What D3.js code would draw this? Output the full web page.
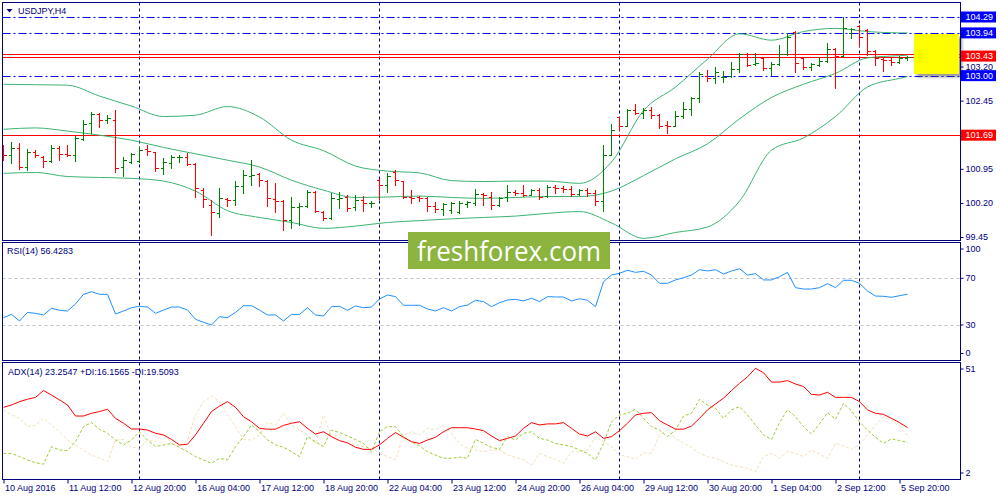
<!DOCTYPE html>
<html><head><meta charset="utf-8">
<script src="https://cdn.jsdelivr.net/npm/d3@7/dist/d3.min.js"></script>
<style>
body{margin:0;background:#fff;overflow:hidden;}
svg{display:block;}
</style></head><body>
<svg id="c" width="1000" height="500"></svg>
<script>
// ---------- DATA ----------
const barOpen  = [101.36,101.25,101.40,100.98,101.33,101.20,101.12,101.40,101.28,101.25,101.60,101.95,102.15,102.02,102.02,100.98,101.11,101.12,101.38,101.31,100.96,101.07,101.20,101.22,101.05,100.48,100.15,99.98,100.29,100.26,100.57,100.80,100.83,100.69,100.28,100.24,99.82,100.11,100.13,100.45,100.01,99.86,100.28,100.32,100.10,100.26,100.19,100.70,100.59,100.89,100.68,100.32,100.32,100.30,100.13,100.06,100.04,100.01,100.18,100.19,100.40,100.34,100.15,100.32,100.45,100.41,100.37,100.48,100.35,100.56,100.52,100.50,100.40,100.48,100.42,100.25,101.25,102.08,101.89,102.24,102.18,102.24,102.13,101.91,101.89,102.11,102.26,102.50,103.00,102.94,102.97,103.00,103.14,103.47,103.25,103.38,103.16,103.26,103.47,103.97,103.38,103.18,103.23,103.33,103.58,103.43,103.94,104.09,104.00,103.55,103.37,103.34,103.31,103.38];
const barHigh  = [101.47,101.53,101.51,101.38,101.36,101.23,101.47,101.45,101.47,101.67,102.02,102.19,102.17,102.13,102.24,101.20,101.29,101.44,101.47,101.33,101.18,101.25,101.25,101.29,101.07,100.52,100.26,100.52,100.30,100.69,100.92,101.14,100.85,100.70,100.63,100.26,100.34,100.20,100.48,100.47,100.03,100.42,100.45,100.37,100.37,100.35,100.25,100.72,100.86,100.92,100.69,100.48,100.35,100.34,100.23,100.20,100.23,100.24,100.25,100.50,100.41,100.45,100.32,100.59,100.48,100.59,100.50,100.52,100.59,100.59,100.58,100.57,100.50,100.52,100.48,101.47,101.94,102.10,102.26,102.38,102.28,102.30,102.16,102.00,102.23,102.43,102.52,103.09,103.12,103.20,103.11,103.31,103.50,103.49,103.49,103.40,103.31,103.67,103.94,103.99,103.40,103.27,103.40,103.71,103.60,104.29,104.04,104.11,104.02,103.56,103.38,103.42,103.43,103.43];
const barLow   = [101.14,101.08,100.94,100.92,101.20,101.00,101.11,101.14,101.23,101.13,101.58,101.74,101.88,101.95,100.89,100.79,101.07,101.11,101.25,100.91,100.84,100.96,101.11,101.03,100.32,100.12,99.49,99.88,100.13,100.15,100.41,100.59,100.57,100.14,100.01,99.60,99.64,99.71,100.12,100.01,99.82,99.84,100.08,100.02,100.04,100.02,100.12,100.28,100.45,100.59,100.30,100.19,100.24,100.02,100.01,99.93,99.97,99.98,100.10,100.15,100.15,100.06,100.13,100.25,100.37,100.36,100.37,100.28,100.34,100.42,100.45,100.35,100.37,100.35,100.15,100.03,101.25,101.80,101.89,102.16,102.06,102.06,101.84,101.73,101.89,102.06,102.13,102.43,102.89,102.84,102.87,102.98,103.09,103.21,103.23,103.12,103.01,103.23,103.45,103.09,103.14,103.12,103.21,103.31,102.72,103.43,103.82,103.65,103.45,103.23,103.11,103.23,103.27,103.34];
const barClose = [101.25,101.40,100.98,101.31,101.25,101.12,101.40,101.28,101.25,101.62,101.94,102.15,102.02,102.06,100.96,101.14,101.27,101.36,101.34,100.96,101.11,101.22,101.22,101.06,100.52,100.28,100.01,100.30,100.26,100.57,100.81,100.82,100.70,100.30,100.25,99.82,100.12,100.13,100.45,100.02,99.86,100.30,100.30,100.09,100.26,100.19,100.20,100.59,100.79,100.70,100.32,100.31,100.30,100.13,100.06,100.18,100.20,100.19,100.22,100.40,100.37,100.15,100.30,100.45,100.42,100.37,100.48,100.34,100.54,100.52,100.50,100.40,100.48,100.42,100.25,101.25,101.80,101.89,102.24,102.18,102.24,102.13,101.89,101.89,102.11,102.26,102.50,103.04,102.94,103.09,102.98,103.14,103.47,103.23,103.27,103.16,103.26,103.48,103.84,103.28,103.18,103.26,103.33,103.58,103.43,104.04,104.02,103.86,103.55,103.38,103.34,103.31,103.38,103.40];

// Bollinger bands, read every 4th bar
const bandIdx  = [0,4,8,12,16,20,24,28,32,36,40,44,48,52,56,60,64,68,72,76,80,84,88,92,96,100,104,108,112,113];
const bbUpper  = [102.81,102.80,102.79,102.55,102.33,102.10,102.13,102.32,102.09,101.58,101.35,101.01,100.90,100.86,100.69,100.67,100.68,100.68,100.63,101.10,102.23,102.75,103.36,103.92,103.78,103.97,104.04,103.97,103.94,103.94];
const bbMiddle = [101.82,101.85,101.78,101.69,101.58,101.42,101.28,101.14,100.99,100.70,100.48,100.32,100.33,100.35,100.32,100.30,100.32,100.34,100.34,100.46,100.80,101.17,101.50,102.05,102.52,102.81,103.05,103.39,103.44,103.45];
const bbLower  = [100.85,100.87,100.78,100.76,100.74,100.68,100.46,100.03,99.88,99.77,99.64,99.69,99.77,99.81,99.85,99.88,99.91,99.97,100.01,99.76,99.42,99.55,99.67,100.24,101.36,101.63,102.10,102.75,102.94,102.98];

const rsiValues = [36.3,39.1,33.4,40.8,40.0,38.6,44.3,42.6,42.0,48.0,56.3,58.5,56.3,56.3,39.4,42.0,44.8,46.0,45.4,40.0,42.8,45.4,45.4,42.8,34.9,32.3,30.0,37.1,36.3,40.8,46.5,46.5,42.8,38.6,38.6,33.4,39.1,39.1,44.8,38.6,37.7,45.7,46.0,42.6,46.3,44.8,45.4,52.3,55.7,54.3,46.9,46.9,46.9,43.7,42.0,44.8,42.0,45.7,47.1,51.2,50.0,45.7,49.1,51.4,52.0,50.6,52.9,50.0,54.3,54.0,54.0,50.6,52.5,51.2,45.7,67.1,72.8,74.3,76.9,75.1,76.0,72.8,65.7,65.7,68.6,70.5,72.8,77.4,76.3,77.4,73.7,76.3,78.2,72.8,74.0,68.6,68.6,71.4,75.1,62.0,60.8,60.8,62.0,65.4,62.0,68.3,68.3,65.7,59.1,54.8,54.6,53.7,55.1,56.4];

const adxValues = [32.7,33.8,35.4,36.5,37.4,40.6,38.5,36.2,33.8,28.6,28.6,29.9,30.7,31.8,27.5,25.2,22.5,22.5,22.0,20.5,19.7,17.6,15.0,15.3,19.7,25.2,30.7,33.3,35.4,32.7,28.3,25.9,22.8,22.4,22.4,24.2,25.2,25.9,22.8,20.1,21.2,18.9,17.0,16.0,13.9,12.9,12.9,15.0,18.1,20.8,18.6,16.5,15.7,17.3,18.6,21.2,23.1,23.1,23.1,22.5,21.7,19.2,17.0,18.1,19.2,22.8,25.5,24.4,24.9,24.9,25.5,22.8,20.1,19.2,21.2,18.1,18.9,21.7,25.2,29.1,29.9,30.2,26.4,24.4,22.4,22.4,23.9,27.5,31.5,34.3,37.0,40.6,44.0,47.1,51.1,49.0,44.6,44.6,45.3,43.7,42.5,38.8,38.5,39.8,37.4,37.4,37.4,35.4,31.5,29.9,29.4,27.5,25.5,23.2];
const plusDI = [11.0,11.0,9.5,7.9,6.6,5.9,14.2,12.6,12.3,16.5,23.6,25.5,22.4,20.5,17.3,15.0,17.3,21.2,17.3,14.2,15.0,15.7,13.9,11.8,9.5,7.9,6.3,8.7,7.9,14.2,18.9,24.4,21.2,17.3,15.0,13.9,11.8,9.5,18.9,16.5,14.2,22.0,20.8,19.2,17.6,15.7,11.8,21.2,23.6,23.6,18.9,16.5,14.5,11.8,10.2,8.7,8.7,9.2,8.7,17.6,15.7,13.9,12.9,18.9,17.3,20.5,21.2,18.1,17.3,15.7,15.0,14.2,12.6,11.0,7.9,15.7,25.9,29.1,29.9,31.8,27.5,23.6,22.0,18.9,22.0,28.6,29.9,36.5,33.8,32.3,27.5,31.5,33.0,29.1,24.4,19.7,17.6,25.5,31.5,28.3,23.6,20.1,24.9,30.2,27.1,34.6,31.1,25.9,22.0,18.6,15.7,17.9,17.0,16.2];
const minusDI = [31.5,29.1,27.5,23.6,24.4,27.5,24.4,21.2,17.3,15.0,12.6,10.2,8.7,7.1,17.3,17.6,13.9,13.4,17.3,16.5,20.5,15.7,14.5,17.3,29.1,35.4,38.0,35.4,29.1,23.6,17.6,17.3,19.7,25.5,24.4,29.9,24.4,22.0,19.7,15.7,29.1,18.9,19.7,17.3,15.0,14.2,13.4,11.0,9.5,7.9,19.7,21.2,19.7,22.8,22.0,24.4,20.5,15.7,13.4,12.6,11.8,12.6,12.6,10.2,9.2,7.9,5.5,11.0,9.5,8.2,6.3,11.8,11.8,12.6,18.9,16.5,14.2,10.2,9.5,8.2,11.3,11.0,19.7,22.0,18.1,15.7,13.9,11.0,9.5,8.7,7.1,5.5,4.7,4.0,2.4,9.5,11.0,8.7,11.8,11.0,9.5,12.6,10.7,8.7,15.7,14.5,12.9,15.0,19.7,24.4,28.3,26.7,23.6,19.5];

const xTickBars   = [0,8,16,24,32,40,48,56,64,72,80,88,96,104,112];
const xTickLabels = ["10 Aug 2016","11 Aug 12:00","12 Aug 20:00","16 Aug 04:00","17 Aug 12:00","18 Aug 20:00","22 Aug 04:00","23 Aug 12:00","24 Aug 20:00","26 Aug 04:00","29 Aug 12:00","30 Aug 20:00","1 Sep 04:00","2 Sep 12:00","5 Sep 20:00"];
const weekStarts  = [17,47,77,107];
const priceTicks  = [103.20,102.45,101.70,100.95,100.20,99.45];
const blueLevels  = [104.29,103.94,103.00];
const redLevels   = [103.47,103.40,101.69];
const blueLabels  = [104.29,103.94,103.00];
const redLabels   = [103.43,101.69];
const rsiTicks    = [100,70,30,0];
const rsiLevels   = [70,30];
const adxTicks    = [51,2];

// ---------- LAYOUT ----------
const FONT = '"Liberation Sans", Arial, sans-serif';
const NAVY = '#000080';
const L = 2.5, R = 960.5;
const P = {main:[2.5,240.5], rsi:[242.5,360.5], adx:[362.5,479.5]};

const svg = d3.select('#c');
const defs = svg.append('defs');
Object.entries(P).forEach(([k,[t,b]]) => {
  defs.append('clipPath').attr('id','clip-'+k).append('rect')
    .attr('x',L).attr('y',t).attr('width',R-L).attr('height',b-t);
});
const f = defs.append('filter').attr('id','shadow').attr('x','-20%').attr('y','-20%').attr('width','150%').attr('height','150%');
f.append('feDropShadow').attr('dx',3).attr('dy',3).attr('stdDeviation',1.5).attr('flood-color','#444').attr('flood-opacity',0.55);

const x  = d3.scaleLinear().domain([0,113]).range([3.5,907.5]);
const y  = d3.scaleLinear().domain([99.45,104.29]).range([237,17]);
const yR = d3.scaleLinear().domain([0,100]).range([360,243.3]);
const yA = d3.scaleLinear().domain([2,51]).range([472.5,368.5]);
const snap = v => Math.round(v) + 0.5;

// separators in all panels
Object.keys(P).forEach(k => {
  svg.append('g').attr('clip-path',`url(#clip-${k})`).selectAll('line').data(weekStarts).join('line')
    .attr('x1',d=>x(d)).attr('x2',d=>x(d)).attr('y1',P[k][0]).attr('y2',P[k][1])
    .attr('stroke',NAVY).attr('stroke-width',1).attr('stroke-dasharray','3,3');
});

// ---------- MAIN PANEL ----------
const gm = svg.append('g').attr('clip-path','url(#clip-main)');
gm.selectAll('line.blue').data(blueLevels).join('line').attr('class','blue')
  .attr('x1',L).attr('x2',R).attr('y1',d=>snap(y(d))).attr('y2',d=>snap(y(d)))
  .attr('stroke','#0000ff').attr('stroke-dasharray','8,3,2,3');
gm.selectAll('line.red').data(redLevels).join('line').attr('class','red')
  .attr('x1',L).attr('x2',R).attr('y1',d=>snap(y(d))).attr('y2',d=>snap(y(d)))
  .attr('stroke','#ff0000');

const bandLine = d3.line().x(d=>x(d[0])).y(d=>y(d[1])).curve(d3.curveMonotoneX);
[bbUpper,bbMiddle,bbLower].forEach(arr => {
  gm.append('path').attr('d', bandLine(bandIdx.map((b,i)=>[b,arr[i]])))
    .attr('fill','none').attr('stroke','#3cb371').attr('stroke-width',1);
});

const bars = barOpen.map((o,i)=>({i,o,h:barHigh[i],l:barLow[i],c:barClose[i]}));
gm.append('g').attr('shape-rendering','crispEdges').selectAll('path').data(bars).join('path')
  .attr('d', d => {
    const cx = x(d.i);
    return `M${cx},${Math.round(y(d.h))}V${Math.round(y(d.l))+1}M${cx-3},${snap(y(d.o))}H${cx}M${cx},${snap(y(d.c))}H${cx+3}`;
  })
  .attr('fill','none').attr('stroke', d => d.c >= d.o ? '#008000' : '#ff0000').attr('stroke-width',1);

// yellow box
svg.append('rect').attr('x',914).attr('y',34).attr('width',45).attr('height',40)
  .attr('fill','#ffff00').attr('filter','url(#shadow)');

// ---------- RSI PANEL ----------
const gr = svg.append('g').attr('clip-path','url(#clip-rsi)');
gr.selectAll('line').data(rsiLevels).join('line')
  .attr('x1',L).attr('x2',R).attr('y1',d=>snap(yR(d))).attr('y2',d=>snap(yR(d)))
  .attr('stroke','#c0c0c0').attr('stroke-dasharray','3,3');
gr.append('path').attr('d', d3.line().x((d,i)=>x(i)).y(d=>yR(d))(rsiValues))
  .attr('fill','none').attr('stroke','#1e90ff').attr('stroke-width',1);

// ---------- ADX PANEL ----------
const ga = svg.append('g').attr('clip-path','url(#clip-adx)');
const aLine = d3.line().x((d,i)=>x(i)).y(d=>yA(d));
ga.append('path').attr('d', aLine(minusDI)).attr('fill','none').attr('stroke','#f5deb3').attr('stroke-dasharray','3,2');
ga.append('path').attr('d', aLine(plusDI)).attr('fill','none').attr('stroke','#9acd32').attr('stroke-dasharray','3,2');
ga.append('path').attr('d', aLine(adxValues)).attr('fill','none').attr('stroke','#ff0000').attr('stroke-width',1);

// ---------- FRAMES ----------
Object.values(P).forEach(([t,b]) => {
  svg.append('rect').attr('x',L).attr('y',t).attr('width',R-L).attr('height',b-t)
    .attr('fill','none').attr('stroke',NAVY).attr('stroke-width',1).attr('shape-rendering','crispEdges');
});

// ---------- AXES ----------
function styleAxis(g){
  g.select('.domain').remove();
  g.selectAll('line').attr('stroke',NAVY);
  g.selectAll('text').attr('fill',NAVY).style('font-family',FONT).style('font-size','9px');
}
const pa = svg.append('g').attr('transform',`translate(${R},0)`)
  .call(d3.axisRight(y).tickValues(priceTicks).tickSize(3).tickPadding(2).tickFormat(d3.format('.2f')));
styleAxis(pa);

const boxG = svg.append('g');
function boxLabel(v,col){
  const yy = y(v);
  boxG.append('rect').attr('x',961).attr('y',yy-5.5).attr('width',35).attr('height',11).attr('fill',col);
  boxG.append('text').attr('x',965.5).attr('y',yy).attr('dy','0.34em').text(v.toFixed(2))
    .attr('fill','#fff').style('font-family',FONT).style('font-size','9px');
}
blueLabels.forEach(v=>boxLabel(v,'#0000ff'));
redLabels.forEach(v=>boxLabel(v,'#ff0000'));

const ra = svg.append('g').attr('transform',`translate(${R},0)`)
  .call(d3.axisRight(yR).tickValues(rsiTicks).tickSize(3).tickPadding(2));
ra.selectAll('.tick').attr('transform', d => `translate(0,${Math.max(249, Math.min(353.5, yR(d)))})`);
styleAxis(ra);

const aa = svg.append('g').attr('transform',`translate(${R},0)`)
  .call(d3.axisRight(yA).tickValues(adxTicks).tickSize(3).tickPadding(2));
styleAxis(aa);

const xa = svg.append('g').attr('transform',`translate(0,${P.adx[1]})`)
  .call(d3.axisBottom(x).tickValues(xTickBars).tickSize(4).tickPadding(1).tickFormat((d,i)=>xTickLabels[i]));
styleAxis(xa);
xa.selectAll('text').attr('text-anchor','start').attr('x',1);

// ---------- LABELS ----------
svg.append('path').attr('d','M6.5,9H12.5L9.5,12.5Z').attr('fill',NAVY);
const lab = (t,xx,yy) => svg.append('text').attr('x',xx).attr('y',yy).text(t)
  .attr('fill',NAVY).style('font-family',FONT).style('font-size','9px');
lab('USDJPY,H4',18,14);
lab('RSI(14) 56.4283',7,254);
lab('ADX(14) 23.2547 +DI:16.1565 -DI:19.5093',8,375);

// ---------- WATERMARK ----------
svg.append('rect').attr('x',408).attr('y',232).attr('width',202).attr('height',37).attr('fill','#8cb43f');
svg.append('text').attr('x',509).attr('y',261).attr('text-anchor','middle').text('freshforex.com')
  .attr('fill','#ffffff').style('font-family','"Open Sans", sans-serif').style('font-size','28px')
  .attr('textLength',184).attr('lengthAdjust','spacingAndGlyphs');
</script>
</body></html>
